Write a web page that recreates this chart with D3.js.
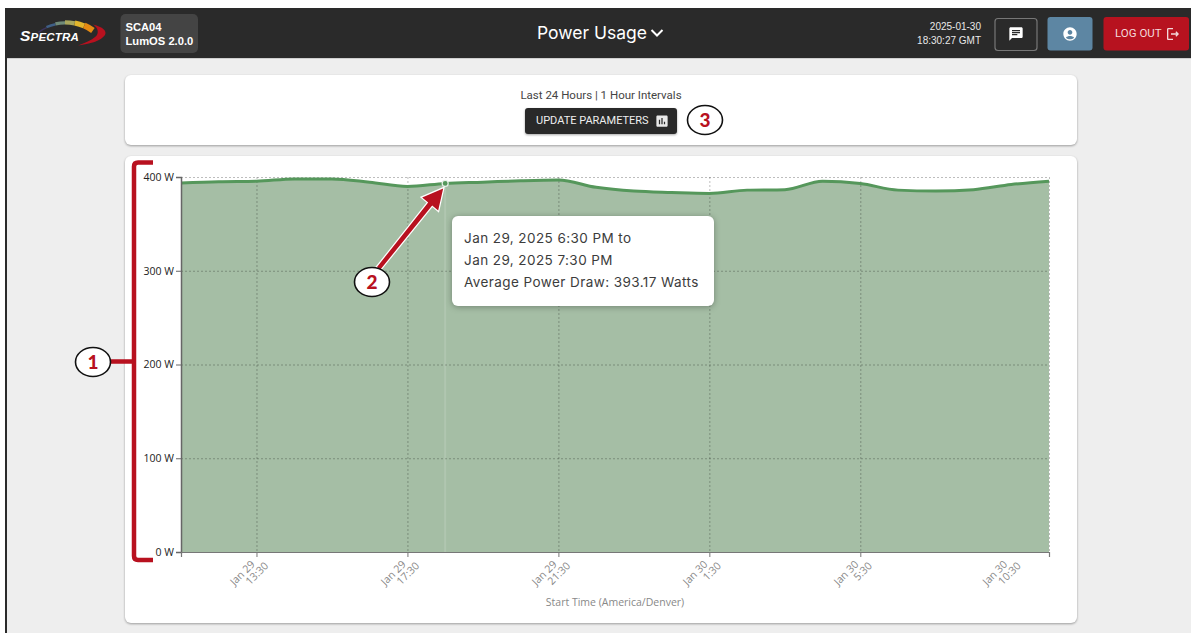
<!DOCTYPE html>
<html>
<head>
<meta charset="utf-8">
<title>Power Usage</title>
<script src="https://cdn.jsdelivr.net/npm/d3@7"></script>
<style>
	html, body { margin: 0; padding: 0; background: #fff; overflow: hidden; }
	svg { display: block; }
	.y-tick text { font: 10.5px "Open Sans", sans-serif; fill: #222; }
	.x-tick text { font: 10.5px "Open Sans", sans-serif; fill: #888; }
</style>
</head>
<body>
<div id="chart"></div>
<script>
"use strict";

// one entry per hour
const startTimes = ['Jan 29 11:30', 'Jan 29 12:30', 'Jan 29 13:30', 'Jan 29 14:30', 'Jan 29 15:30', 'Jan 29 16:30',
	'Jan 29 17:30', 'Jan 29 18:30', 'Jan 29 19:30', 'Jan 29 20:30', 'Jan 29 21:30', 'Jan 29 22:30',
	'Jan 29 23:30', 'Jan 30 0:30', 'Jan 30 1:30', 'Jan 30 2:30', 'Jan 30 3:30', 'Jan 30 4:30',
	'Jan 30 5:30', 'Jan 30 6:30', 'Jan 30 7:30', 'Jan 30 8:30', 'Jan 30 9:30', 'Jan 30 10:30'];
const powerWatts = [393.6, 395, 395.5, 398, 398, 394.5, 390, 393.17, 394.5, 396, 396.8, 389,
	385, 383.5, 382.5, 386, 386.5, 395.5, 393, 386, 385, 386.5, 392, 395.5];
const xTicks = ['Jan 29 13:30', 'Jan 29 17:30', 'Jan 29 21:30', 'Jan 30 1:30', 'Jan 30 5:30', 'Jan 30 10:30'];
const yTicks = [0, 100, 200, 300, 400];
const hoverTime = 'Jan 29 18:30';
const tooltipLines = ['Jan 29, 2025 6:30 PM to', 'Jan 29, 2025 7:30 PM', 'Average Power Draw: 393.17 Watts'];
const logoColors = ['#3d3560', '#3f5f86', '#6f8a78', '#a9a65c', '#e2b52c', '#e58a12'];

const w = 1191, h = 633;
const plot = { left: 181, right: 1049, top: 177, bottom: 552 };
const red = '#b8111f';
const sans = 'Roboto, sans-serif';
const round = 'Inter, sans-serif';

const svg = d3.select('#chart').append('svg').attr('width', w).attr('height', h);

function box(x, y, width, height, r, fill) {
	return svg.append('rect').attr('x', x).attr('y', y).attr('width', width).attr('height', height).attr('rx', r).attr('fill', fill);
}
function label(txt, x, y, size, fill, font, anchor) {
	return svg.append('text').attr('x', x).attr('y', y).attr('fill', fill)
		.attr('text-anchor', anchor || 'start').style('font', size + 'px ' + font).text(txt);
}
function icon(d, x, y, size, fill) {
	svg.append('path').attr('d', d).attr('fill', fill)
		.attr('transform', 'translate(' + x + ',' + y + ') scale(' + size / 24 + ')');
}

//page background and the header
box(7, 8, w - 7, h - 8, 0, '#eeeeee');
box(5, 8, 2, h - 8, 0, '#2a2a2a');
box(5, 8, w - 5, 50, 0, '#2a2a2a');
svg.append('rect').attr('x', 7).attr('y', 58).attr('width', w - 7).attr('height', 1).attr('fill', '#cfcfcf');

//logo: the coloured arc is cut into segments, then the red swoosh
const arcScale = d3.scaleLinear().domain([0, logoColors.length]).range([-0.62, 0.62]);
logoColors.forEach(function(c, i) {
	svg.append('path')
		.attr('d', d3.arc().innerRadius(45).outerRadius(46.5 + i * 0.9).startAngle(arcScale(i)).endAngle(arcScale(i + 1))())
		.attr('transform', 'translate(65,69.5)')
		.attr('fill', c);
});
svg.append('path').attr('d', 'M93,24.5 C103,27 107,31 105,35 C101,41 90,44 78,45.5 C87,42 94,39 97,35 C99,31 97,27 93,24.5 Z').attr('fill', red);
const logo = svg.append('text').attr('x', 20).attr('y', 41).attr('fill', '#fff')
	.style('font', 'italic bold 11.5px "Liberation Sans", sans-serif').style('letter-spacing', '0.2px');
logo.append('tspan').style('font-size', '15.5px').text('S');
logo.append('tspan').text('PECTRA');

box(120.5, 14, 77.5, 39, 5, '#444444');
label('SCA04', 125.5, 31, 11.2, '#fff', '"Liberation Sans", sans-serif').style('font-weight', 'bold');
label('LumOS 2.0.0', 125.5, 45, 11.2, '#fff', '"Liberation Sans", sans-serif').style('font-weight', 'bold');

label('Power Usage', 537, 39, 17.5, '#fff', round);
svg.append('path').attr('d', 'M651.5,30 L657,35.5 L662.5,30').attr('fill', 'none').attr('stroke', '#fff').attr('stroke-width', 2);

label('2025-01-30', 981, 30, 10, '#e8e8e8', '"Liberation Sans", sans-serif', 'end');
label('18:30:27 GMT', 981, 44, 10, '#e8e8e8', '"Liberation Sans", sans-serif', 'end');

box(995, 18.5, 42, 32, 3, 'none').attr('stroke', '#777').attr('stroke-width', 1.2);
icon('M20 2H4c-1.1 0-1.99.9-1.99 2L2 22l4-4h14c1.1 0 2-.9 2-2V4c0-1.1-.9-2-2-2zM6 9h12v2H6V9zm8 5H6v-2h8v2zm4-6H6V6h12v2z', 1008, 26, 16, '#fff');
box(1047.5, 17, 45, 33.5, 3, '#5d86a3');
icon('M12 2C6.48 2 2 6.48 2 12s4.48 10 10 10 10-4.48 10-10S17.52 2 12 2zm0 4c1.93 0 3.5 1.57 3.5 3.5S13.93 13 12 13s-3.5-1.57-3.5-3.5S10.07 6 12 6zm0 14c-2.03 0-4.43-.82-6.14-2.88C7.55 15.8 9.68 15 12 15s4.45.8 6.14 2.12C16.43 19.18 14.03 20 12 20z', 1062, 26, 16, '#fff');
box(1103.5, 17, 85.5, 33.5, 3, '#b7121f');
label('LOG OUT', 1115, 36.5, 11.5, '#f3d9db', sans);
icon('M17 8l-1.41 1.41L17.17 11H9v2h8.17l-1.58 1.58L17 16l4-4zM5 5h7V3H5c-1.1 0-2 .9-2 2v14c0 1.1.9 2 2 2h7v-2H5z', 1165, 26, 16, '#f3d9db');

//the two cards
const shadow = 'drop-shadow(0 1px 1px rgba(0,0,0,.35))';
box(125, 75, 952, 70, 6, '#fff').style('filter', shadow);
box(125, 156, 952, 467, 6, '#fff').style('filter', shadow);

label('Last 24 Hours | 1 Hour Intervals', 601, 99, 11.5, '#444', sans, 'middle');
box(525, 108, 152, 26, 3, '#292929').style('filter', shadow);
label('UPDATE PARAMETERS', 536, 124, 11, '#eee', sans);
icon('M19 3H5c-1.1 0-2 .9-2 2v14c0 1.1.9 2 2 2h14c1.1 0 2-.9 2-2V5c0-1.1-.9-2-2-2zM9 17H7v-7h2v7zm4 0h-2V7h2v10zm4 0h-2v-4h2v4z', 654.5, 113.5, 15, '#e8e8e8');

//scales
const x = d3.scalePoint().domain(startTimes).range([plot.left, plot.right]);
const y = d3.scaleLinear().domain([0, 400]).range([plot.bottom, plot.top]);
const points = startTimes.map(function(t, i) { return { time: t, watts: powerWatts[i] }; });

const area = d3.area().x(function(d) { return x(d.time); }).y0(y(0)).y1(function(d) { return y(d.watts); }).curve(d3.curveMonotoneX);
const line = d3.line().x(function(d) { return x(d.time); }).y(function(d) { return y(d.watts); }).curve(d3.curveMonotoneX);

svg.append('path').datum(points).attr('d', area).attr('fill', '#a5bea5');

//grid, dotted and on top of the area
const grid = svg.append('g').attr('stroke', 'rgba(0,0,0,.26)').attr('stroke-dasharray', '2 2');
grid.selectAll('.h').data(yTicks).enter().append('line')
	.attr('x1', plot.left).attr('x2', plot.right)
	.attr('y1', function(d) { return y(d) + 0.5; }).attr('y2', function(d) { return y(d) + 0.5; });
grid.selectAll('.v').data(xTicks).enter().append('line')
	.attr('y1', plot.top).attr('y2', plot.bottom)
	.attr('x1', function(d) { return x(d) + 0.5; }).attr('x2', function(d) { return x(d) + 0.5; });

//hover marker
svg.append('line').attr('x1', x(hoverTime)).attr('x2', x(hoverTime))
	.attr('y1', y(powerWatts[startTimes.indexOf(hoverTime)])).attr('y2', plot.bottom)
	.attr('stroke', 'rgba(255,255,255,.13)').attr('stroke-width', 2);
svg.append('path').datum(points).attr('d', line).attr('fill', 'none').attr('stroke', '#55975b').attr('stroke-width', 3);
svg.append('circle').attr('cx', x(hoverTime)).attr('cy', y(powerWatts[startTimes.indexOf(hoverTime)])).attr('r', 3)
	.attr('fill', '#55975b').attr('stroke', '#e8f0e8').attr('stroke-width', 1.2);

//axes
const yAxis = svg.append('g').attr('class', 'y-tick').attr('transform', 'translate(' + plot.left + ',0)')
	.call(d3.axisLeft(y).tickValues(yTicks).tickSize(5).tickPadding(2).tickFormat(function(d) { return d + ' W'; }));
yAxis.select('.domain').attr('stroke', '#666').attr('stroke-width', 1.5);
yAxis.selectAll('.tick line').attr('stroke', '#666');

const xAxis = svg.append('g').attr('class', 'x-tick').attr('transform', 'translate(0,' + plot.bottom + ')')
	.call(d3.axisBottom(x).tickValues(xTicks).tickSize(5));
xAxis.select('.domain').attr('stroke', '#777').attr('stroke-width', 1.2);
xAxis.selectAll('.tick line').attr('stroke', '#777');
xAxis.selectAll('.tick text').remove();

//tick labels go on two rotated lines, the last one is pulled back inside the plot
xTicks.forEach(function(t) {
	const parts = t.split(' ');
	const px = Math.min(x(t) - 1, plot.right - 41);
	const g = xAxis.append('g').attr('transform', 'translate(' + px + ',13) rotate(-45)');
	g.append('text').attr('text-anchor', 'end').attr('x', 0).attr('y', 0).text(parts[0] + ' ' + parts[1]);
	g.append('text').attr('text-anchor', 'end').attr('x', 8.5).attr('y', 10.6).text(parts[2]);
});
label('Start Time (America/Denver)', 615, 606, 10.5, '#888', '"Open Sans", sans-serif', 'middle');

//tooltip
box(452, 216, 262, 90, 6, '#fff').style('filter', 'drop-shadow(0 1px 3px rgba(0,0,0,.3))');
tooltipLines.forEach(function(t, i) {
	label(t, 464, 243 + i * 22, 13.5, '#3c3c3c', round).style('letter-spacing', '0.42px');
});

//callouts: bracket 1, arrow 2, circle 3
svg.append('path').attr('d', 'M153,162.5 L138,162.5 Q134,162.5 134,166.5 L134,556 Q134,560 138,560 L153,560 M110,361.5 L134,361.5')
	.attr('fill', 'none').attr('stroke', red).attr('stroke-width', 4.5);

const tipX = x(hoverTime) - 2, tipY = y(powerWatts[startTimes.indexOf(hoverTime)]) + 5;
const arrowPath = 'M380,270 L' + (tipX - 11) + ',' + (tipY + 17) + ' L' + (tipX - 5) + ',' + (tipY + 22) +
	' L' + tipX + ',' + tipY + ' L' + (tipX - 21) + ',' + (tipY + 9) + ' L' + (tipX - 15) + ',' + (tipY + 14) + ' L377,267 Z';
svg.append('path').attr('d', arrowPath).attr('fill', red).attr('stroke', '#fff').attr('stroke-width', 2.5).attr('paint-order', 'stroke');

function callout(n, cx, cy) {
	svg.append('ellipse').attr('cx', cx).attr('cy', cy).attr('rx', 17.5).attr('ry', 14.5)
		.attr('fill', '#fff').attr('stroke', '#111').attr('stroke-width', 1.6);
	label(n, cx, cy + 7, 19, red, 'Lato, sans-serif', 'middle').style('font-weight', '900');
}
callout('1', 93, 362);
callout('2', 372, 282);
callout('3', 705, 120);
</script>
</body>
</html>
